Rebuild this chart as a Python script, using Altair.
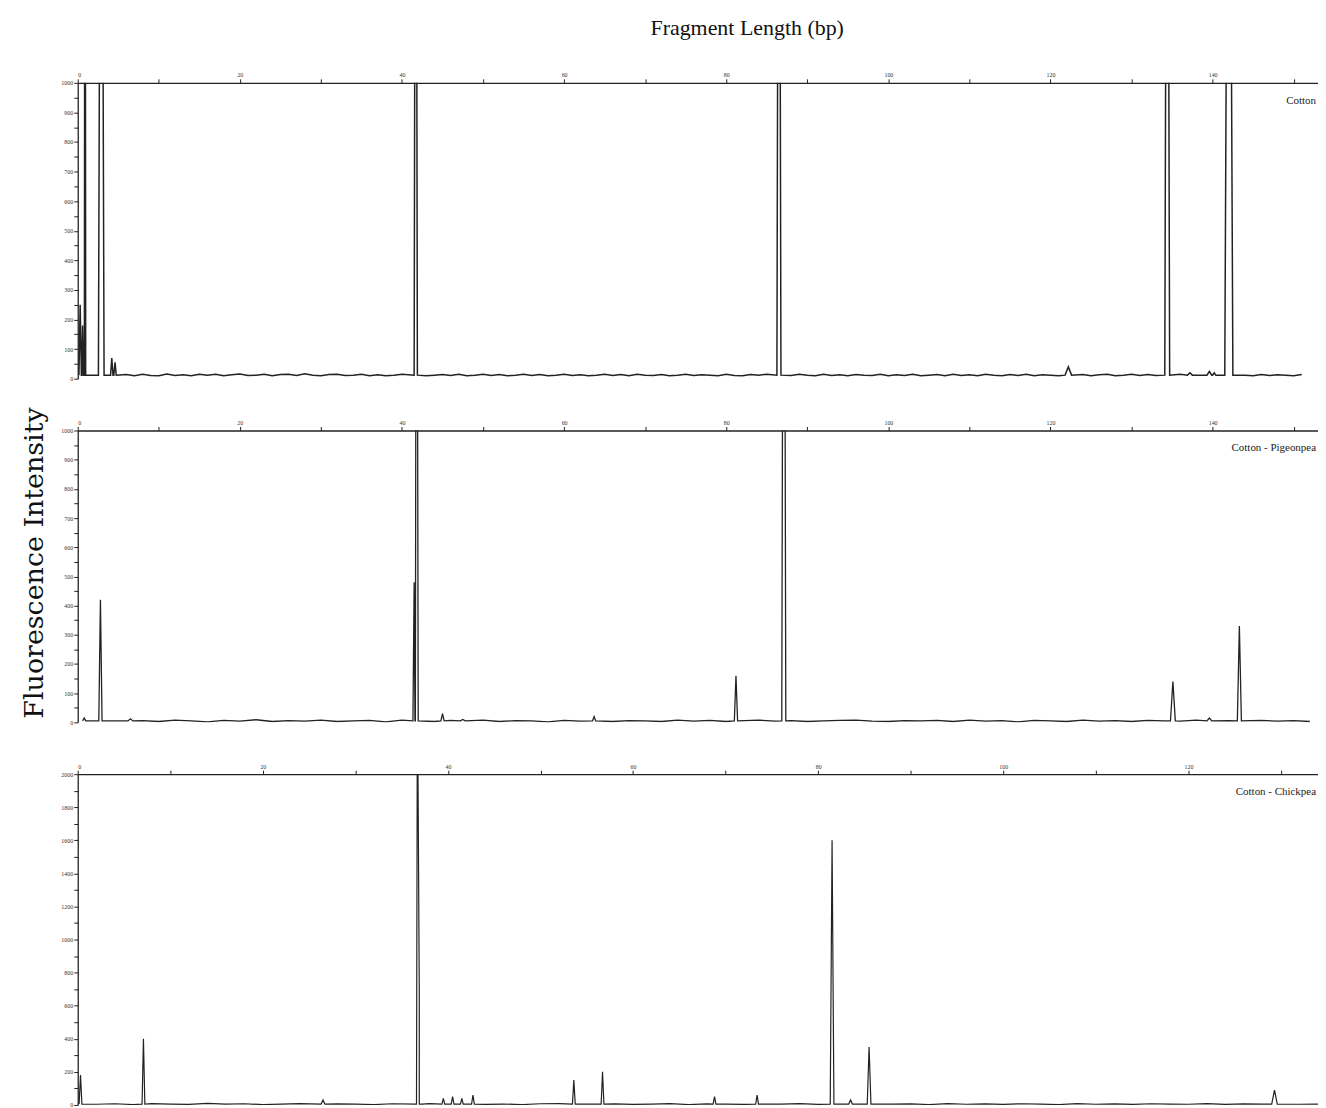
import altair as alt
import pandas as pd

TITLE_X = "Fragment Length (bp)"
TITLE_Y = "Fluorescence Intensity"
panel_names = ["Cotton", "Cotton - Pigeonpea", "Cotton - Chickpea"]

# ---- Panel 1: Cotton ----
p1_peak_x = [0.3, 0.6, 0.9, 2.9, 4.2, 4.6, 41.7, 86.5, 122.2, 134.4, 137.2, 139.6, 140.2, 142.0]
p1_peak_h = [250, 180, 3000, 3000, 70, 55, 3000, 3000, 40, 3000, 20, 25, 20, 3000]
p1_peak_w = [0.15, 0.1, 0.08, 0.35, 0.15, 0.15, 0.2, 0.25, 0.4, 0.3, 0.3, 0.3, 0.2, 0.5]
p1_base = 12
p1_noise_start, p1_noise_step = 6, 1
p1_noise = [14, 10, 15, 11, 10, 16, 11, 13, 10, 15, 12, 15, 10, 13, 16, 11, 12, 15, 10, 14,
            15, 11, 17, 12, 10, 14, 15, 11, 12, 15, 10, 13, 10, 12, 15, 11, 15, 10, 12, 14,
            11, 15, 10, 12, 15, 11, 14, 10, 12, 15, 11, 14, 10, 12, 15, 11, 13, 10, 12, 15,
            11, 14, 10, 15, 12, 11, 14, 10, 12, 15, 11, 13, 12, 10, 15, 11, 10, 14, 12, 15,
            10, 13, 11, 15, 12, 10, 15, 11, 13, 10, 14, 12, 11, 15, 10, 13, 11, 15, 10, 12,
            14, 10, 15, 11, 13, 10, 15, 12, 10, 14, 11, 15, 10, 13, 12, 10, 15, 11, 14, 10,
            13, 15, 10, 12, 15, 11, 14, 11, 13, 10, 15, 12, 10, 14, 11, 13, 10, 15, 12, 10,
            14, 11, 13, 12, 10, 14]

# ---- Panel 2: Cotton - Pigeonpea ----
p2_peak_x = [0.8, 2.8, 6.5, 41.5, 41.8, 45.0, 47.5, 63.7, 81.2, 87.1, 135.1, 139.6, 143.3]
p2_peak_h = [15, 420, 12, 480, 3000, 30, 10, 20, 160, 3000, 140, 15, 330]
p2_peak_w = [0.2, 0.2, 0.3, 0.15, 0.2, 0.2, 0.3, 0.2, 0.2, 0.25, 0.3, 0.3, 0.25]
p2_base = 5
p2_noise_start, p2_noise_step = 8, 2
p2_noise = [6, 3, 8, 5, 2, 7, 4, 9, 3, 6, 4, 8, 3, 5, 7, 2, 8, 5, 3, 7,
            4, 8, 3, 6, 5, 2, 7, 4, 8, 3, 6, 5, 3, 8, 4, 7, 3, 5, 8, 4,
            6, 3, 5, 7, 8, 4, 3, 6, 5, 7, 3, 8, 4, 6, 2, 7, 5, 3, 8, 4,
            6, 3, 7, 5, 4, 8, 3, 6, 5, 7, 4, 6, 3]

# ---- Panel 3: Cotton - Chickpea ----
p3_peak_x = [0.3, 7.1, 26.5, 36.7, 36.9, 39.5, 40.5, 41.5, 42.7, 53.6, 56.7, 68.8, 73.4, 81.5, 83.5, 85.5, 129.3]
p3_peak_h = [180, 400, 30, 2600, 700, 40, 50, 40, 60, 150, 200, 50, 60, 1600, 30, 350, 90]
p3_peak_w = [0.15, 0.15, 0.2, 0.2, 0.3, 0.15, 0.15, 0.15, 0.15, 0.15, 0.15, 0.15, 0.15, 0.2, 0.2, 0.2, 0.3]
p3_base = 5
p3_noise_start, p3_noise_step = 2, 2
p3_noise = [4, 7, 2, 8, 5, 3, 9, 5, 7, 2, 5, 8, 3, 6, 5, 2, 7, 4, 8, 5,
            6, 3, 5, 2, 7, 8, 3, 5, 6, 3, 5, 8, 2, 6, 5, 3, 7, 5, 8, 3,
            5, 7, 3, 5, 6, 2, 8, 4, 6, 3, 7, 5, 2, 8, 4, 6, 3, 7, 5, 4,
            8, 3, 6, 5, 7, 4, 5]


def build_trace(px, ph, pw, base, n_start, n_step, noise):
    pts = []
    for i, v in enumerate(noise):
        x = n_start + n_step * i
        if all(abs(x - c) > w + 0.6 for c, w in zip(px, pw)):
            pts.append((x, v))
    for c, h, w in zip(px, ph, pw):
        pts.append((max(c - w, 0.02), base))
        pts.append((c, h))
        pts.append((c + w, base))
    pts.sort(key=lambda p: p[0])
    return pd.DataFrame(pts, columns=["x", "y"])


d1 = build_trace(p1_peak_x, p1_peak_h, p1_peak_w, p1_base, p1_noise_start, p1_noise_step, p1_noise)
d2 = build_trace(p2_peak_x, p2_peak_h, p2_peak_w, p2_base, p2_noise_start, p2_noise_step, p2_noise)
d3 = build_trace(p3_peak_x, p3_peak_h, p3_peak_w, p3_base, p3_noise_start, p3_noise_step, p3_noise)

W = 1245
SERIF = "Liberation Serif"


def panel(df, name, xmax, ymax, ystep, ylab_step, height, sw):
    xvals = list(range(0, int(xmax) + 1, 10))
    yvals = list(range(0, ymax + 1, ystep))
    x_axis = alt.Axis(orient="top", values=xvals,
                      labelExpr="datum.value % 20 == 0 ? datum.label : ''")
    ylab = f"datum.value % {ylab_step} == 0 ? format(datum.value, 'd') : ''"
    y_axis = alt.Axis(orient="left", values=yvals, labelExpr=ylab)
    line = alt.Chart(df).mark_line(color="#222", strokeWidth=sw, clip=True).encode(
        x=alt.X("x:Q", scale=alt.Scale(domain=[0, xmax], nice=False, zero=False), axis=x_axis, title=None),
        y=alt.Y("y:Q", scale=alt.Scale(domain=[0, ymax], nice=False), axis=y_axis, title=None),
        order="x:Q",
    )
    lab = alt.Chart(pd.DataFrame({"t": [name]})).mark_text(
        align="right", baseline="middle", font=SERIF, fontSize=11, color="#222"
    ).encode(x=alt.value(W - 2), y=alt.value(18), text="t:N")
    return alt.layer(line, lab).properties(width=W, height=height)


c1 = panel(d1, panel_names[0], 153, 1000, 50, 100, 297, 1.5)
c2 = panel(d2, panel_names[1], 153, 1000, 50, 100, 293, 1.3)
c3 = panel(d3, panel_names[2], 134, 2000, 100, 200, 332, 1.2)

panels = alt.vconcat(c1, c2, c3, spacing=38)

ytitle = alt.Chart(pd.DataFrame({"t": [TITLE_Y]})).mark_text(
    angle=270, align="center", baseline="middle", font="DejaVu Serif", fontSize=27, color="#111"
).encode(x=alt.value(22), y=alt.value(482), text="t:N").properties(width=40, height=1000)

chart = alt.hconcat(ytitle, panels, spacing=8).properties(
    title=alt.TitleParams(TITLE_X, font=SERIF, fontSize=22, fontWeight="normal",
                          color="#111", dx=82, offset=32, anchor="middle"),
    padding={"left": 5, "top": 7, "right": 0, "bottom": 0},
).configure_view(stroke=None).configure_axis(
    domainColor="#222", domainWidth=1.3, tickColor="#222", tickSize=4, tickWidth=1,
    labelFontSize=6, labelColor="#333", labelPadding=1, grid=False,
    labelFont=SERIF,
)

chart.save("out.html", embed_options={"renderer": "svg", "actions": False})
